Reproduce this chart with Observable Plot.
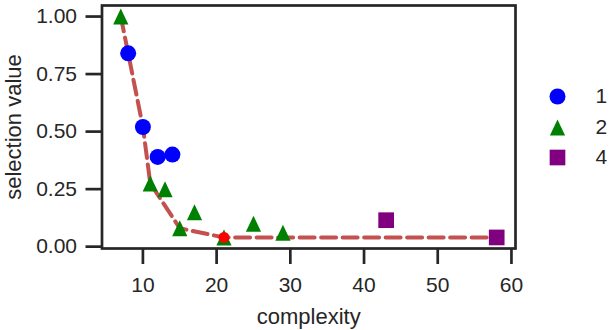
<!DOCTYPE html>
<html><head><meta charset="utf-8">
<script src="https://cdn.jsdelivr.net/npm/d3@7"></script>
<script src="https://cdn.jsdelivr.net/npm/@observablehq/plot@0.6"></script>
<style>html,body{margin:0;padding:0;background:#fff;} svg{display:block}</style>
</head><body>
<div id="chart"></div>
<script>
// Data
const complexity1 = [8, 10, 12, 14];
const value1 = [0.84, 0.52, 0.39, 0.40];
const complexity2 = [7, 11, 13, 15, 17, 21, 25, 29];
const value2 = [1.00, 0.275, 0.25, 0.08, 0.15, 0.04, 0.10, 0.06];
const complexity4 = [43, 58];
const value4 = [0.115, 0.04];
const frontComplexity = [7, 8, 10, 11, 15, 21, 58];
const frontValue = [1.00, 0.84, 0.52, 0.275, 0.08, 0.04, 0.04];
const bestComplexity = [21];
const bestValue = [0.04];
const legendLabels = ["1", "2", "4"];
const xTicks = [10, 20, 30, 40, 50, 60];
const yTicks = [0, 0.25, 0.5, 0.75, 1];
const xLabel = "complexity";
const yLabel = "selection value";

const ink = "#262626";
const colors = ["#0000ff", "#008000", "#800080"];

// custom symbols (size = pi r^2)
const rOf = s => Math.sqrt(s / Math.PI);
const symCircle = {draw(c, s) { const r = rOf(s); c.moveTo(r, 0); c.arc(0, 0, r, 0, 2 * Math.PI); c.closePath(); }};
const symTriangle = {draw(c, s) { const r = rOf(s); c.moveTo(0, -r); c.lineTo(0.95 * r, r); c.lineTo(-0.95 * r, r); c.closePath(); }};
const symSquare = {draw(c, s) { const r = rOf(s) * 0.98; c.moveTo(-r, -r); c.lineTo(r, -r); c.lineTo(r, r); c.lineTo(-r, r); c.closePath(); }};
const symbols = [symCircle, symTriangle, symSquare];

const toRows = (xs, ys) => xs.map((x, i) => ({x, y: ys[i]}));
const s1 = toRows(complexity1, value1);
const s2 = toRows(complexity2, value2);
const s4 = toRows(complexity4, value4);
const front = toRows(frontComplexity, frontValue);
const best = toRows(bestComplexity, bestValue);

const legendDy = [91, 122, 152];

const marks = [
  Plot.line(front, {x: "x", y: "y", stroke: "#c35150", strokeWidth: 4, strokeDasharray: "15,6.5"}),
  Plot.dot(s1, {x: "x", y: "y", r: 8, symbol: symCircle, fill: colors[0], stroke: "none"}),
  Plot.dot(s2, {x: "x", y: "y", r: 8, symbol: symTriangle, fill: colors[1], stroke: "none"}),
  Plot.dot(s4, {x: "x", y: "y", r: 8, symbol: symSquare, fill: colors[2], stroke: "none"}),
  Plot.dot(best, {x: "x", y: "y", r: 5.5, fill: "#ff0000", stroke: "none"}),
  Plot.frame({stroke: ink, strokeWidth: 2.7}),
  Plot.axisX({ticks: xTicks, tickSize: 16, tickPadding: 12.5, strokeWidth: 2.7, stroke: ink, label: null, tickFormat: d => String(d)}),
  Plot.axisY({ticks: yTicks, tickSize: 16, tickPadding: 9, strokeWidth: 2.7, stroke: ink, label: null, tickFormat: d3.format(".2f")}),
  Plot.text([xLabel], {text: d => d, frameAnchor: "bottom", dy: 68, fontSize: 22, textAnchor: "middle", lineAnchor: "middle", fill: ink}),
  Plot.text([yLabel], {text: d => d, frameAnchor: "left", dx: -88.5, rotate: -90, fontSize: 22, textAnchor: "middle", lineAnchor: "middle", fill: ink})
];
legendLabels.forEach((lab, i) => {
  marks.push(Plot.dot([lab], {frameAnchor: "top-right", dx: 42, dy: legendDy[i], r: 8, symbol: symbols[i], fill: colors[i], stroke: "none"}));
  marks.push(Plot.text([lab], {text: d => d, frameAnchor: "top-right", dx: 80, dy: legendDy[i], textAnchor: "start", lineAnchor: "middle", fontSize: 21, fill: ink}));
});

const chart = Plot.plot({
  width: 612, height: 330,
  marginLeft: 101.5, marginRight: 97, marginTop: 5, marginBottom: 82,
  style: {fontFamily: "'Liberation Sans', Arial, Helvetica, sans-serif", fontSize: "21px", color: ink, background: "white", overflow: "visible"},
  x: {domain: [4.45, 60.55], label: null},
  y: {domain: [-0.008, 1.048], label: null},
  marks
});
document.getElementById("chart").appendChild(chart);
</script>
</body></html>
